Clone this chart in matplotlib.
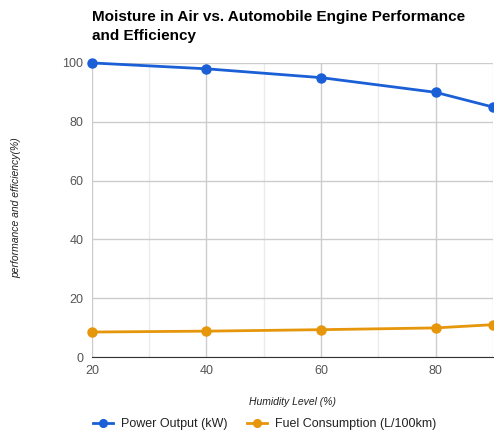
import matplotlib
matplotlib.use("Agg")
import matplotlib.pyplot as plt
from matplotlib.ticker import MultipleLocator

humidity = [20, 40, 60, 80, 90]
power = [100, 98, 95, 90, 85]
fuel = [8.5, 8.8, 9.3, 9.9, 11]
title = "Moisture in Air vs. Automobile Engine Performance\nand Efficiency"
xlabel = "Humidity Level (%)"
ylabel = "performance and efficiency(%)"
labels = ["Power Output (kW)", "Fuel Consumption (L/100km)"]

plt.rcParams['font.family'] = ['Liberation Sans', 'DejaVu Sans']

fig = plt.figure(figsize=(4.94, 4.37), dpi=100)
ax = fig.add_axes([0.186, 0.183, 0.812, 0.673])

ax.plot(humidity, power, color='#1a5fd6', lw=2, marker='o', ms=6.5, label=labels[0], clip_on=False, zorder=3)
ax.plot(humidity, fuel, color='#e6960a', lw=2, marker='o', ms=6.5, label=labels[1], clip_on=False, zorder=3)

ax.set_xlim(20, 90)
ax.set_ylim(0, 100)
ax.xaxis.set_major_locator(MultipleLocator(20))
ax.xaxis.set_minor_locator(MultipleLocator(10))
ax.yaxis.set_major_locator(MultipleLocator(20))
ax.grid(which='major', color='#cccccc', lw=1)
ax.grid(which='minor', axis='x', color='#ebebeb', lw=1)
ax.set_axisbelow(True)
for s in ['top', 'right', 'left']:
    ax.spines[s].set_visible(False)
ax.spines['bottom'].set_color('#333333')
ax.tick_params(which='both', length=0, labelsize=9, colors='#555555', pad=6)

ax.set_xlabel(xlabel, fontsize=7.5, style='italic', color='#222222', labelpad=14)
fig.text(0.032, 0.525, ylabel, rotation=90, fontsize=7.5, style='italic', color='#222222', ha='center', va='center')

fig.text(0.186, 0.94, title, fontsize=11, fontweight='bold', color='#000000', ha='left', va='center', linespacing=1.45)

fig.legend(loc='center', bbox_to_anchor=(0.536, 0.03), ncol=2, frameon=False, fontsize=9,
           handlelength=1.6, handletextpad=0.6, columnspacing=1.6, markerscale=0.85, labelcolor='#222222')

fig.savefig("out.png", dpi=100)
